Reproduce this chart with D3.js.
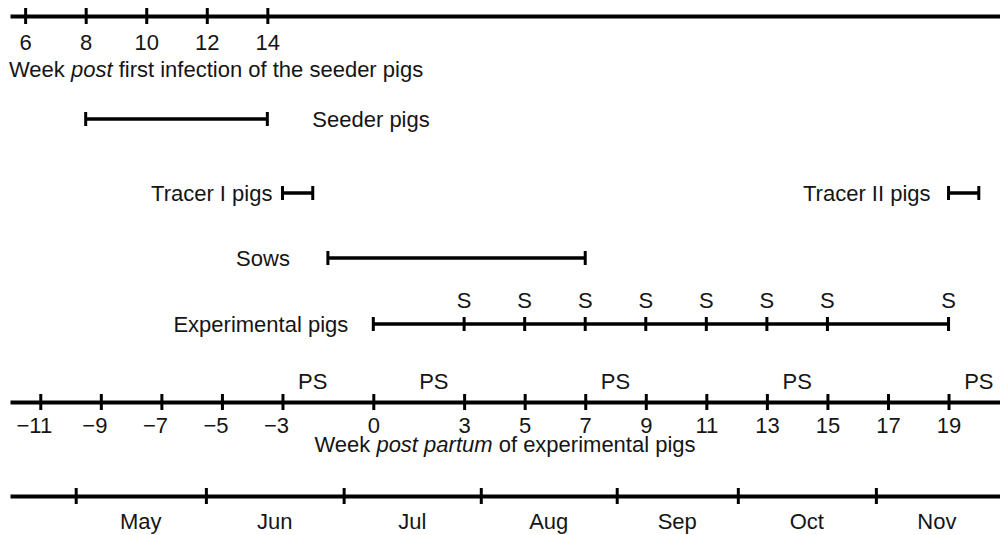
<!DOCTYPE html>
<html>
<meta charset="utf-8">
<script src="https://d3js.org/d3.v7.min.js"></script>
<style>
  body { margin: 0; background: #fff; }
  text { font-family: "Liberation Sans", Arial, sans-serif; fill: #151515; }
</style>
<body>
<div id="timeline"></div>
<script>

    // week post partum of the experimental pigs (main time base)
    var weekTicks = [-11, -9, -7, -5, -3, 0, 3, 5, 7, 9, 11, 13, 15, 17, 19];
    // week post first infection of the seeder pigs = pp week + seederOffset
    var seederTicks = [6, 8, 10, 12, 14];
    var seederOffset = 17.5;

    var groupNames = ["Seeder pigs", "Tracer I pigs", "Tracer II pigs", "Sows", "Experimental pigs"];
    var groupStart = [-9.5, -3, 19, -1.5, 0];
    var groupEnd   = [-3.5, -2, 20, 7, 19];

    var samplingWeeks = [3, 5, 7, 9, 11, 13, 15, 19];   // "S"
    var psWeeks = [-2, 2, 8, 14, 20];                    // "PS"

    var monthNames  = ["May", "Jun", "Jul", "Aug", "Sep", "Oct", "Nov"];
    var monthBounds = [-9.83, -5.53, -0.98, 3.55, 8.04, 12.04, 16.6, 20.63];

    var width = 1000, height = 535;
    var fs = "22px";

    var svg = d3.select("#timeline")
      .append("svg")
        .attr("width", width)
        .attr("height", height);

    var x = d3.scaleLinear()
      .domain([-12, 20.7])
      .range([10, 1000]);

    var xs = d3.scaleLinear()
      .domain(x.domain().map(function(d) { return d + seederOffset; }))
      .range(x.range());

    // shared styling for the three horizontal axes
    function styleAxis(g, tickHalf, labelY) {
      g.attr("font-size", null).attr("font-family", null);
      g.select(".domain").attr("stroke", "#000").attr("stroke-width", 4);
      g.selectAll(".tick line")
        .attr("stroke", "#000").attr("stroke-width", 3)
        .attr("y1", -tickHalf).attr("y2", tickHalf);
      g.selectAll(".tick text")
        .attr("y", labelY).attr("dy", null)
        .style("font-size", fs)
        .attr("fill", "#151515");
    }

    // top axis: seeder weeks
    var seederAxis = svg.append("g")
      .attr("transform", "translate(0,16)")
      .call(d3.axisBottom(xs).tickValues(seederTicks).tickSizeOuter(0));
    styleAxis(seederAxis, 8, 34);

    var t1 = svg.append("text")
      .attr("x", 9).attr("y", 77)
      .style("font-size", fs);
    t1.append("tspan").text("Week ");
    t1.append("tspan").style("font-style", "italic").text("post");
    t1.append("tspan").text(" first infection of the seeder pigs");

    // group bars
    var rowY = [119, 193, 193, 258, 324];
    var labelSide = ["right", "left", "left", "left", "left"];
    var labelGap = [45, 10, 18, 38, 25];

    groupNames.forEach(function(name, i) {
      var g = svg.append("g");
      var x0 = x(groupStart[i]), x1 = x(groupEnd[i]), y = rowY[i];
      g.append("line")
        .attr("x1", x0).attr("x2", x1).attr("y1", y).attr("y2", y)
        .attr("stroke", "#000").attr("stroke-width", 3.5);
      [x0, x1].forEach(function(cx) {
        g.append("line")
          .attr("x1", cx).attr("x2", cx).attr("y1", y - 7).attr("y2", y + 7)
          .attr("stroke", "#000").attr("stroke-width", 3);
      });
      g.append("text")
        .attr("x", labelSide[i] == "right" ? x1 + labelGap[i] : x0 - labelGap[i])
        .attr("y", y + 8)
        .attr("text-anchor", labelSide[i] == "right" ? "start" : "end")
        .style("font-size", fs)
        .text(name);
    });

    // sampling marks on the experimental pigs bar
    var expY = rowY[4];
    svg.selectAll(".smark")
      .data(samplingWeeks)
      .enter()
      .append("line")
        .attr("class", "smark")
        .attr("x1", function(d) { return x(d); })
        .attr("x2", function(d) { return x(d); })
        .attr("y1", expY - 7).attr("y2", expY + 7)
        .attr("stroke", "#000").attr("stroke-width", 3);
    svg.selectAll(".slabel")
      .data(samplingWeeks)
      .enter()
      .append("text")
        .attr("class", "slabel")
        .attr("x", function(d) { return x(d); })
        .attr("y", expY - 16)
        .attr("text-anchor", "middle")
        .style("font-size", fs)
        .text("S");

    // PS labels
    svg.selectAll(".ps")
      .data(psWeeks)
      .enter()
      .append("text")
        .attr("class", "ps")
        .attr("x", function(d) { return x(d); })
        .attr("y", 389)
        .attr("text-anchor", "middle")
        .style("font-size", fs)
        .text("PS");

    // bottom axis: weeks post partum (digits centred on tick, minus hangs left)
    var weekAxis = svg.append("g")
      .attr("transform", "translate(0,402)")
      .call(d3.axisBottom(x).tickValues(weekTicks)
        .tickFormat(function(d) { return Math.abs(d); }).tickSizeOuter(0));
    styleAxis(weekAxis, 8, 31);

    weekAxis.selectAll(".tick")
      .filter(function(d) { return d < 0; })
      .each(function() {
        var tick = d3.select(this);
        var w = tick.select("text").node().getComputedTextLength();
        tick.append("text")
          .attr("x", -w / 2)
          .attr("y", 31)
          .attr("text-anchor", "end")
          .style("font-size", fs)
          .text("\u2212");
      });

    var t2 = svg.append("text")
      .attr("x", 505).attr("y", 452)
      .attr("text-anchor", "middle")
      .style("font-size", fs);
    t2.append("tspan").text("Week ");
    t2.append("tspan").style("font-style", "italic").text("post partum");
    t2.append("tspan").text(" of experimental pigs");

    // month axis
    var monthAxis = svg.append("g")
      .attr("transform", "translate(0,496)")
      .call(d3.axisBottom(x).tickValues(monthBounds.slice(0, -1)).tickFormat("").tickSizeOuter(0));
    styleAxis(monthAxis, 8, 0);

    svg.selectAll(".month")
      .data(monthNames)
      .enter()
      .append("text")
        .attr("class", "month")
        .attr("x", function(d, i) { return x((monthBounds[i] + monthBounds[i + 1]) / 2); })
        .attr("y", 529)
        .attr("text-anchor", "middle")
        .style("font-size", fs)
        .text(function(d) { return d; });

</script>
</body>
</html>
